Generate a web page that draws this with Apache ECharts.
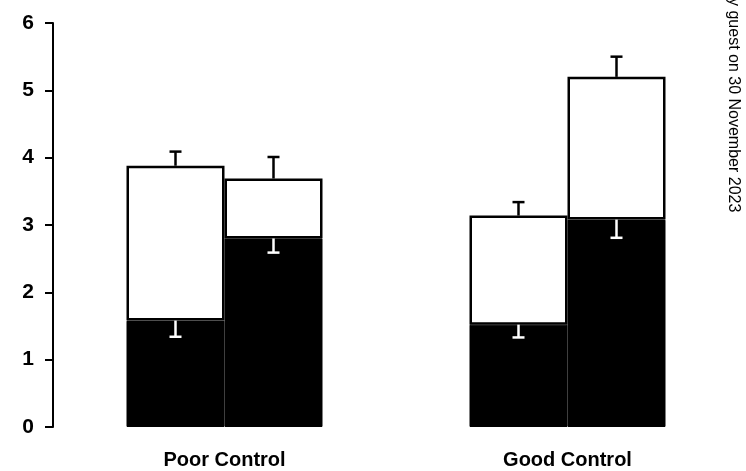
<!DOCTYPE html>
<html><head><meta charset="utf-8">
<script src="https://cdn.jsdelivr.net/npm/echarts@6/dist/echarts.min.js"></script>
<style>html,body{margin:0;padding:0;background:#fff}#c{width:746px;height:471px}</style>
</head><body><div id="c"></div>
<script>
const categories = ['Poor Control', 'Good Control'];
const yTicks = [0, 1, 2, 3, 4, 5, 6];
// bar A (left in each group) and bar B (right in each group)
const blackA = [1.58, 1.52];
const totalA = [3.88, 3.14];
const blackErrA = [0.24, 0.19];
const totalErrA = [0.21, 0.20];
const blackB = [2.80, 3.08];
const totalB = [3.69, 5.20];
const blackErrB = [0.21, 0.27];
const totalErrB = [0.32, 0.30];

const BW = 98;
const chart = echarts.init(document.getElementById('c'));

function errSeries(vals, errs, offset, color, dir) {
  return {
    type: 'custom', z: 10,
    data: vals.map((v, i) => [i, v, v + dir * errs[i]]),
    renderItem: function (params, api) {
      const p0 = api.coord([api.value(0), api.value(1)]);
      const p1 = api.coord([api.value(0), api.value(2)]);
      const x = p0[0] + offset;
      const st = { stroke: color, lineWidth: 2.5 };
      return { type: 'group', children: [
        { type: 'line', shape: { x1: x, y1: p0[1], x2: x, y2: p1[1] }, style: st },
        { type: 'line', shape: { x1: x - 6, y1: p1[1], x2: x + 6, y2: p1[1] }, style: st }
      ]};
    }
  };
}

const font = 'Liberation Sans, Arial, sans-serif';
chart.setOption({
  animation: false,
  backgroundColor: '#fff',
  grid: { left: 53, right: 7, top: 23, bottom: 44 },
  xAxis: {
    type: 'category', data: categories,
    axisLine: { show: false }, axisTick: { show: false },
    axisLabel: { margin: 23, color: '#000', fontSize: 20, fontWeight: 'bold', fontFamily: font }
  },
  yAxis: {
    type: 'value', min: yTicks[0], max: yTicks[yTicks.length - 1], interval: 1,
    splitLine: { show: false },
    axisLine: { show: true, lineStyle: { color: '#000', width: 2 } },
    axisTick: { show: true, length: 8, lineStyle: { color: '#000', width: 2 } },
    axisLabel: { margin: 19, color: '#000', fontSize: 21, fontWeight: 'bold', fontFamily: font }
  },
  series: [
    { type: 'bar', stack: 'A', barWidth: BW, barGap: '0%', data: blackA, itemStyle: { color: '#000', borderColor: '#000', borderWidth: 1 } },
    { type: 'bar', stack: 'A', barWidth: BW, data: totalA.map((t, i) => t - blackA[i]), itemStyle: { color: '#fff', borderColor: '#000', borderWidth: 2.5 } },
    { type: 'bar', stack: 'B', barWidth: BW, barGap: '0%', data: blackB, itemStyle: { color: '#000', borderColor: '#000', borderWidth: 1 } },
    { type: 'bar', stack: 'B', barWidth: BW, data: totalB.map((t, i) => t - blackB[i]), itemStyle: { color: '#fff', borderColor: '#000', borderWidth: 2.5 } },
    errSeries(totalA, totalErrA, -BW / 2, '#000', 1),
    errSeries(blackA, blackErrA, -BW / 2, '#fff', -1),
    errSeries(totalB, totalErrB, BW / 2, '#000', 1),
    errSeries(blackB, blackErrB, BW / 2, '#fff', -1)
  ],
  graphic: [{
    type: 'text', x: 733, y: -2, rotation: -Math.PI / 2,
    style: { text: 'y guest on 30 November 2023', fontSize: 16, fill: '#000', fontFamily: font, textAlign: 'left', textVerticalAlign: 'middle' }
  }]
});
</script></body></html>
